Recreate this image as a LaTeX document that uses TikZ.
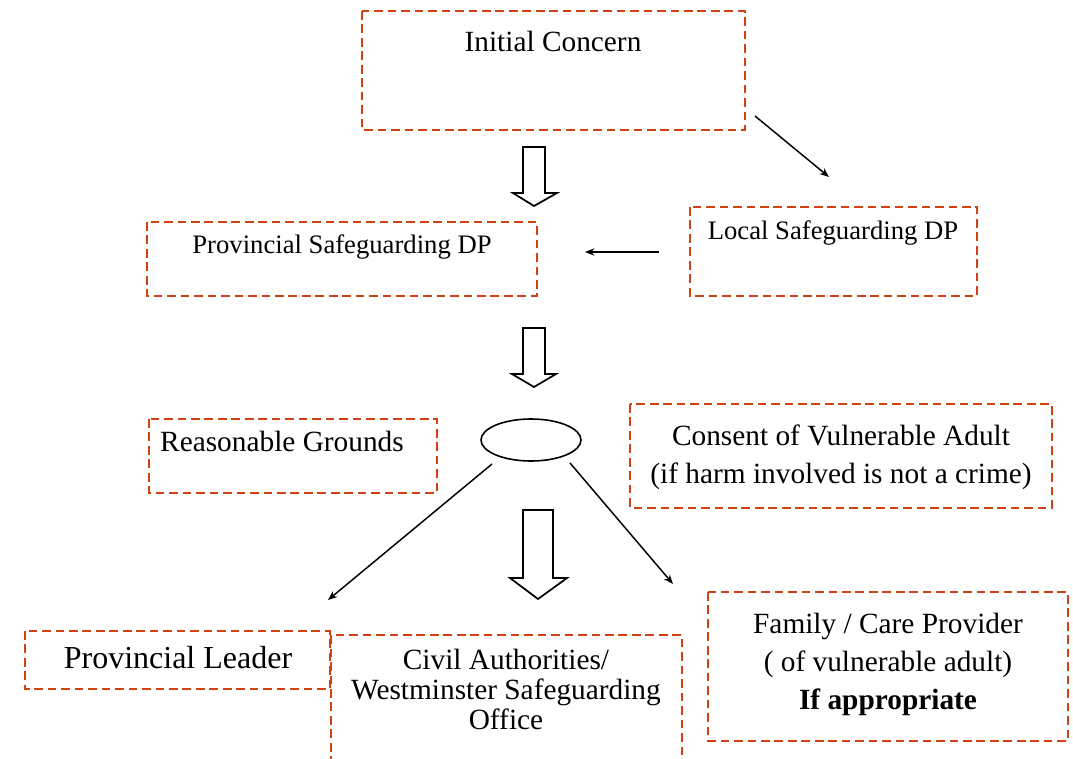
\documentclass[tikz,border=0pt]{standalone}
\usepackage{fontspec}
\setmainfont{Liberation Serif}
\usetikzlibrary{arrows.meta}
\definecolor{dashred}{RGB}{208,66,18}
\tikzset{
  dbox/.style={draw=dashred, line width=2.1pt, dash pattern=on 6.5pt off 3.6pt},
  txt/.style={inner sep=0pt, align=center, anchor=base, font=\fontsize{22}{28.5}\selectfont},
  stxt/.style={inner sep=0pt, align=center, anchor=base, font=\fontsize{20}{26}\selectfont},
  ltxt/.style={inner sep=0pt, align=center, anchor=base, font=\fontsize{24}{28}\selectfont},
  conn/.style={line width=1.1pt, -{Stealth[length=7pt,width=5.5pt]}},
  hollow/.style={draw=black, line width=1.3pt, fill=white, line join=miter},
}
\begin{document}
\begin{tikzpicture}[x=0.75pt,y=-0.75pt]
\useasboundingbox (0,0) rectangle (1073,759);

% boxes
\draw[dbox] (362,11) rectangle (745,130);
\draw[dbox] (147,222) rectangle (537,296);
\draw[dbox] (690,207) rectangle (977,296);
\draw[dbox] (149,419) rectangle (437,493);
\draw[dbox] (630,404) rectangle (1052,508);
\draw[dbox] (25,631) rectangle (330,689);
\draw[dbox] (331,765) -- (331,635) -- (682,635) -- (682,765);
\draw[dbox] (708,592) rectangle (1068,741);

% texts (base anchor = baseline of last line)
\node[txt] (ic) at (553,52) {Initial Concern};
\node[stxt] (psd) at (342,253) {Provincial Safeguarding DP};
\node[stxt] (lsd) at (833,239) {Local Safeguarding DP};
\node[txt] (rg) at (282,451) {Reasonable Grounds};
\node[txt] (cva) at (841,483) {Consent of Vulnerable Adult\\(if harm involved is not a crime)};
\node[ltxt] (pl) at (178,668) {Provincial Leader};
\node[txt,font=\fontsize{22}{22.5}\selectfont] (ca) at (506,729) {Civil Authorities/\\Westminster Safeguarding\\Office};
\node[txt] (fcp) at (888,709) {Family / Care Provider\\( of vulnerable adult)\\\textbf{If appropriate}};

% ellipse
\draw[line width=1.2pt] (531,440) ellipse [x radius=50, y radius=21];
\node[inner sep=0pt, minimum width=75pt, minimum height=31.5pt] (el) at (531,440) {};

% connector end points
\coordinate (a1s) at (755,116);
\coordinate (a1e) at (829,177);
\coordinate (a2s) at (659,252);
\coordinate (a2e) at (585,252);
\coordinate (a3s) at (492,464);
\coordinate (a3e) at (328,600);
\coordinate (a4s) at (570,463);
\coordinate (a4e) at (673,584);
\draw[conn] (a1s) -- (a1e);
\draw[conn] (a2s) -- (a2e);
\draw[conn] (a3s) -- (a3e);
\draw[conn] (a4s) -- (a4e);

% hollow arrows
\draw[hollow] (523,147) -- (545,147) -- (545,193) -- (557,193) -- (534,206) -- (513,193) -- (523,193) -- cycle;
\draw[hollow] (523,328) -- (545,328) -- (545,374) -- (556,374) -- (534,387) -- (512,374) -- (523,374) -- cycle;
\draw[hollow] (523,510) -- (553,510) -- (553,578) -- (567,578) -- (538,599) -- (510,578) -- (523,578) -- cycle;
\end{tikzpicture}
\end{document}
